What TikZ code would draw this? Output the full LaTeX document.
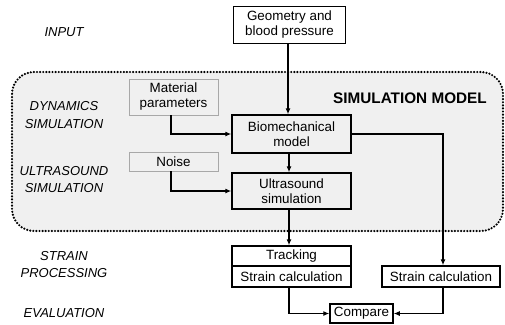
\documentclass[tikz,border=0pt]{standalone}
\usepackage{fontspec}
\setmainfont{Liberation Sans}
\usetikzlibrary{arrows.meta}
\definecolor{regionfill}{HTML}{F0F0F0}
\definecolor{lightedge}{HTML}{A8A8A8}
\begin{document}
\begin{tikzpicture}[x=1pt,y=-1pt,
  boxtext/.style={font=\fontsize{13.4}{15}\selectfont, align=center, inner sep=0pt},
  mainbox/.style={boxtext, draw=black, line width=1.5pt},
  graybox/.style={boxtext, draw=lightedge, line width=0.9pt},
  stagelabel/.style={font=\fontsize{13}{17.5}\selectfont\itshape, align=center, inner sep=0pt},
  conn/.style={line width=1.1pt, -{Latex[length=6pt,width=5pt]}}
]
\useasboundingbox (0,0) rectangle (505,324);
% simulation region
\draw[fill=regionfill, line width=2.4pt, dash pattern=on 0pt off 3.1pt, line cap=round, rounded corners=22pt]
  (12,72) rectangle (503,231);
\node[font=\fontsize{15.3}{18}\selectfont\bfseries] (simtitle) at (410,98) {SIMULATION MODEL};

% stage labels
\node[stagelabel] (linput) at (64,32) {INPUT};
\node[stagelabel] (ldyn) at (64,115) {DYNAMICS\\SIMULATION};
\node[stagelabel] (lus) at (64,179.5) {ULTRASOUND\\SIMULATION};
\node[stagelabel] (lstrain) at (64,264.5) {STRAIN\\PROCESSING};
\node[stagelabel] (leval) at (64,313) {EVALUATION};

% boxes
\node[mainbox, minimum width=112pt, minimum height=37pt] (geo) at (289.5,25) {Geometry and\\blood pressure};
\node[mainbox, minimum width=119pt, minimum height=38pt] (bio) at (291.5,134) {Biomechanical\\model};
\node[mainbox, minimum width=119pt, minimum height=36pt] (us) at (291.5,191) {Ultrasound\\simulation};
\node[graybox, minimum width=89pt, minimum height=36pt] (mat) at (173.5,97) {Material\\parameters};
\node[graybox, minimum width=89pt, minimum height=19pt] (noise) at (173.5,161.5) {Noise};
\node[mainbox, minimum width=119pt, minimum height=20pt] (trk) at (291.5,256) {Tracking};
\node[mainbox, minimum width=119pt, minimum height=21pt] (sc1) at (291.5,276.5) {Strain calculation};
\node[mainbox, minimum width=118pt, minimum height=21pt] (sc2) at (441,276.5) {Strain calculation};
\node[mainbox, minimum width=63pt, minimum height=19pt] (cmp) at (361.5,313.5) {Compare};

% connectors
\draw[conn] ([xshift=-1.5pt]geo.south) -- ([xshift=-1.5pt]geo.south |- bio.north);
\draw[conn] ([xshift=-2.5pt]mat.south) |- (bio.west);
\draw[conn] ([xshift=-2.5pt]noise.south) |- (us.west);
\draw[conn] ([xshift=-2.5pt]bio.south) -- ([xshift=-2.5pt]us.north);
\draw[conn] ([xshift=-2.5pt]us.south) -- ([xshift=-2.5pt]trk.north);
\draw[conn] (bio.east) -| ([xshift=2pt]sc2.north);
\draw[conn] ([xshift=-2.5pt]sc1.south) |- (cmp.west);
\draw[conn] ([xshift=2pt]sc2.south) |- (cmp.east);
\end{tikzpicture}
\end{document}
